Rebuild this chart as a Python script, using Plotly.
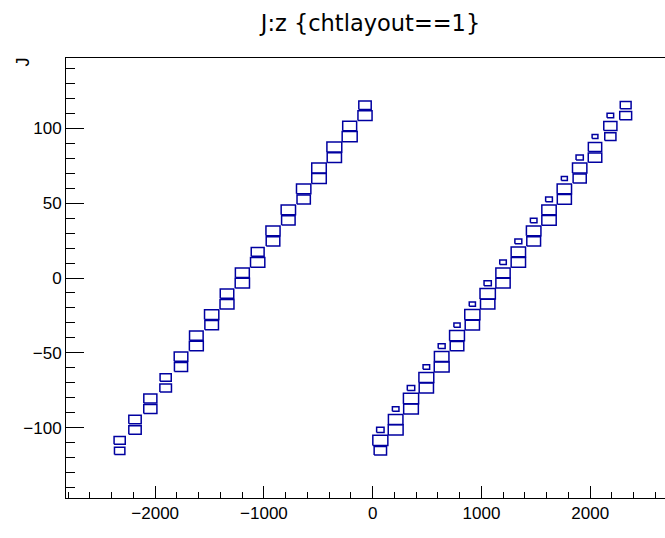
import numpy as np
import plotly.graph_objects as go

# ---------------- data ----------------
TITLE = "J:z {chtlayout==1}"
Y_TITLE = "J"
X_TICKS = [-2000, -1000, 0, 1000, 2000]
X_TICKTEXT = ["\u22122000", "\u22121000", "0", "1000", "2000"]
Y_TICKS = [-100, -50, 0, 50, 100]
Y_TICKTEXT = ["\u2212100", "\u221250", "0", "50", "100"]

# histogram binning (z on x, J on y)
Z_LO, Z_HI, Z_BIN = -2820, 2820, 141
J_LO, J_HI, J_BIN = -147, 147, 7

# J centre of the lower filled bin in each column (same for both branches)
column_j = [-115.5, -101.5, -87.5, -73.5, -59.5, -45.5, -31.5, -17.5, -3.5,
            10.5, 24.5, 38.5, 52.5, 66.5, 80.5, 94.5, 108.5]

# negative-z branch
left_z = [-2326.5, -2185.5, -2044.5, -1903.5, -1762.5, -1621.5, -1480.5,
          -1339.5, -1198.5, -1057.5, -916.5, -775.5, -634.5, -493.5,
          -352.5, -211.5, -70.5]
left_n_low = [45, 64, 72, 56, 72, 81, 77, 81, 85, 85, 77, 76, 74, 88, 85, 94, 83]
left_n_high = [52, 64, 71, 52, 77, 77, 85, 76, 81, 69, 83, 86, 86, 88, 92, 81, 64]

# positive-z branch
right_z = [70.5, 211.5, 352.5, 493.5, 634.5, 775.5, 916.5, 1057.5, 1198.5,
           1339.5, 1480.5, 1621.5, 1762.5, 1903.5, 2044.5, 2185.5, 2326.5]
right_n_low = [64, 92, 90, 85, 92, 77, 85, 86, 85, 86, 79, 86, 83, 72, 76, 52, 59]
right_n_high = [94, 88, 96, 92, 88, 92, 96, 98, 85, 86, 88, 86, 86, 86, 74, 72, 49]
right_n_top = [23, 18, 23, 18, 20, 16, 16, 22, 18, 20, 18, 19, 15, 22, 14, 18, 0]

# ---------------- build cells ----------------
cells = []
for z, j, a, b in zip(left_z, column_j, left_n_low, left_n_high):
    cells.append((z, j, a))
    cells.append((z, j + J_BIN, b))
for z, j, a, b, c in zip(right_z, column_j, right_n_low, right_n_high, right_n_top):
    cells.append((z, j, a))
    cells.append((z, j + J_BIN, b))
    if c > 0:
        cells.append((z, j + 2 * J_BIN, c))

n_max = max(c[2] for c in cells)
bx, by = [], []
for z, j, n in cells:
    r = np.sqrt(n / n_max)
    hw = 0.5 * Z_BIN * r
    hh = 0.5 * J_BIN * r
    bx += [z - hw, z + hw, z + hw, z - hw, z - hw, None]
    by += [j - hh, j - hh, j + hh, j + hh, j - hh, None]

fig = go.Figure()
fig.add_trace(go.Scatter(x=bx, y=by, mode="lines",
                         line=dict(color="#0000a0", width=1.5),
                         hoverinfo="skip", showlegend=False))

W, H = 665, 538
ML, MR, MT, MB = 66, 0, 58, 40
px_per_z = 0.10875
x_right = Z_LO + (W - ML - MR) / px_per_z

tickfont = dict(family="Liberation Sans, Arial, sans-serif", size=17, color="black")

fig.update_layout(
    width=W, height=H,
    margin=dict(l=ML, r=MR, t=MT, b=MB, pad=0),
    paper_bgcolor="white", plot_bgcolor="white",
    title=dict(text=TITLE, x=370.5 / W, xanchor="center",
               y=1 - 23 / H, yanchor="middle", yref="container",
               font=dict(family="DejaVu Sans, sans-serif", size=22.5, color="black")),
    xaxis=dict(range=[Z_LO, x_right], showgrid=False, zeroline=False,
               showline=True, linecolor="black", linewidth=1, mirror=True,
               ticks="inside", ticklen=12, tickwidth=1, tickcolor="black",
               tickmode="array", tickvals=X_TICKS, ticktext=X_TICKTEXT,
               tickfont=tickfont,
               minor=dict(ticks="inside", ticklen=6, tickwidth=1, tickcolor="black",
                          dtick=200, tick0=0, showgrid=False)),
    yaxis=dict(range=[J_LO, J_HI], showgrid=False, zeroline=False,
               showline=True, linecolor="black", linewidth=1, mirror=False,
               ticks="inside", ticklen=18, tickwidth=1, tickcolor="black",
               tickmode="array", tickvals=Y_TICKS, ticktext=Y_TICKTEXT,
               tickfont=tickfont,
               minor=dict(ticks="inside", ticklen=9, tickwidth=1, tickcolor="black",
                          dtick=10, tick0=0, showgrid=False)),
    annotations=[dict(text=Y_TITLE, textangle=-90, showarrow=False,
                      xref="paper", yref="paper",
                      x=(22.7 - ML) / (W - ML - MR), y=(H - MB - 61.7) / (H - MT - MB),
                      xanchor="center", yanchor="middle",
                      font=dict(family="Liberation Sans, Arial, sans-serif", size=18, color="black"))],
)

fig.write_html("out.html")
